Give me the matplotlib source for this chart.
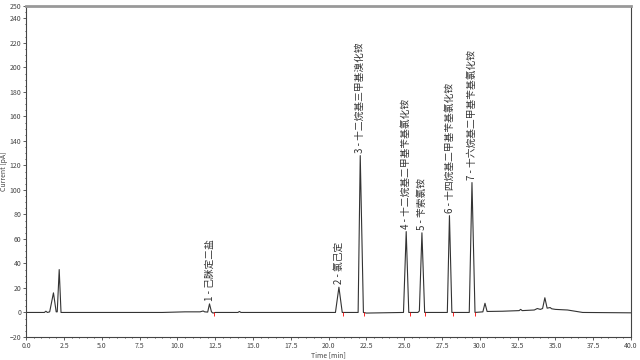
import matplotlib.pyplot as plt
from matplotlib.ticker import MultipleLocator

plt.rcParams['font.family'] = ['Noto Sans CJK SC', 'DejaVu Sans']

# chromatogram trace, points (time in min, current in pA)
tiempo = [0.0, 1.2, 1.3, 1.4, 1.55, 1.8, 1.98, 2.05, 2.18, 2.3,
          2.5, 9.0, 10.5, 11.5, 11.7, 11.8, 12.0, 12.12, 12.25, 12.35,
          12.5, 14.0, 14.1, 14.2, 20.45, 20.68, 20.9, 21.95, 22.09, 22.3,
          22.5, 24.95, 25.13, 25.3, 25.9, 26.0, 26.17, 26.35, 27.85, 27.99,
          28.15, 29.3, 29.48, 29.68, 30.2, 30.34, 30.48, 31.5, 32.6, 32.7,
          32.8, 33.6, 33.8, 34.0, 34.15, 34.3, 34.45, 34.65, 34.75, 35.0,
          35.8, 36.8, 40.0]
corriente = [0, 0, 1, 0, 0.5, 16, 0.5, 0.5, 35, 0,
             0, 0, 0.5, 0.5, 1.2, 0.5, 0.3, 7, 0.5, -0.5,
             0, 0, 0.8, 0, 0, 20.6, 0, 0, 128, 0,
             -0.5, 0, 66, 0, 0, 1.2, 65, 0, 0, 79,
             0, 0, 106, 0, 0.5, 7.5, 0.8, 1.0, 1.5, 2.5,
             1.5, 2, 3.2, 2.5, 3.2, 12, 3.5, 4, 3, 2.5,
             2, 0, -0.3]

# named peaks
picos_t = [12.12, 20.68, 22.09, 25.13, 26.17, 27.99, 29.48]
picos_h = [7, 20.6, 128, 66, 65, 79, 106]
nombres = ['1 - 己脒定二盐', '2 - 氯己定', '3 - 十二烷基三甲基溴化铵',
           '4 - 十二烷基二甲基苄基氯化铵', '5 - 苄索氯铵',
           '6 - 十四烷基二甲基苄基氯化铵', '7 - 十六烷基二甲基苄基氯化铵']

# integration marks (red) at baseline
marcas_t = [12.4, 20.95, 22.35, 25.35, 26.4, 28.2, 29.7]

fig = plt.figure(figsize=(6.4, 3.6), dpi=100)
ax = fig.add_axes([0.041, 0.064, 0.945, 0.919])

ax.plot(tiempo, corriente, color='#333333', linewidth=0.8)
ax.plot(marcas_t, [-1.5] * len(marcas_t), linestyle='none', marker='|',
        color='red', markersize=3, markeredgewidth=0.6)

for t, h, n in zip(picos_t, picos_h, nombres):
    ax.annotate(n, (t, h), xytext=(0, 2), textcoords='offset points',
                rotation=90, ha='center', va='bottom', fontsize=7,
                color='#333333')

ax.set_xlim(0, 40)
ax.set_ylim(-20, 250)
ax.set_xticks([i * 2.5 for i in range(17)])
ax.set_xticklabels(['%.1f' % (i * 2.5) for i in range(17)])
ax.set_yticks(list(range(-20, 241, 20)) + [250])
ax.xaxis.set_minor_locator(MultipleLocator(0.5))
ax.yaxis.set_minor_locator(MultipleLocator(5))
ax.tick_params(labelsize=5, length=2, width=0.6, colors='#444444', pad=1.5)
ax.tick_params(which='minor', length=1, width=0.5)

ax.set_xlabel('Time [min]', fontsize=5, labelpad=1, color='#444444')
ax.set_ylabel('Current [pA]', fontsize=5, labelpad=1, color='#444444')

for lado in ['left', 'right', 'bottom']:
    ax.spines[lado].set_color('#444444')
    ax.spines[lado].set_linewidth(0.8)
ax.spines['top'].set_color('#999999')
ax.spines['top'].set_linewidth(2)

plt.savefig('out.png')
